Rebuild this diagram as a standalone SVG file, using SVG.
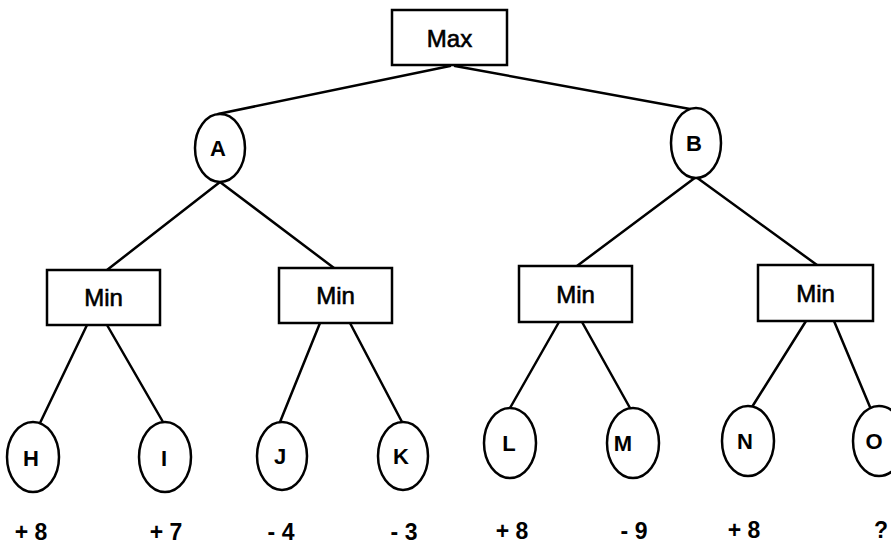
<svg xmlns="http://www.w3.org/2000/svg" width="891" height="547" viewBox="0 0 891 547">
<style>
.box{fill:#fff;stroke:#000;stroke-width:2.5}
.ell{fill:#fff;stroke:#000;stroke-width:2.5}
.edge{stroke:#000;stroke-width:2.5;fill:none;stroke-linecap:round}
.lbl{font-family:"Liberation Sans",Arial,sans-serif;font-size:24px;fill:#000;stroke:#000;stroke-width:0.6;text-anchor:middle}
.ltr{font-family:"Liberation Sans",Arial,sans-serif;font-size:22px;font-weight:bold;fill:#000;text-anchor:middle}
.val{font-family:"Liberation Sans",Arial,sans-serif;font-size:23px;font-weight:bold;fill:#000;text-anchor:middle}
</style>
<rect width="891" height="547" fill="#fff"/>
<g id="connectors">
<line class="edge" x1="450" y1="66" x2="218" y2="114"/>
<line class="edge" x1="455" y1="66" x2="690" y2="109"/>
<line class="edge" x1="220" y1="182" x2="107" y2="270"/>
<line class="edge" x1="220" y1="182" x2="334" y2="268"/>
<line class="edge" x1="696" y1="177" x2="577" y2="266"/>
<line class="edge" x1="696" y1="177" x2="817" y2="265"/>
<line class="edge" x1="87" y1="325" x2="40" y2="423"/>
<line class="edge" x1="107" y1="325" x2="163" y2="422"/>
<line class="edge" x1="320" y1="323" x2="280" y2="422"/>
<line class="edge" x1="350" y1="323" x2="402" y2="422"/>
<line class="edge" x1="559" y1="322" x2="510" y2="408"/>
<line class="edge" x1="582" y1="322" x2="630" y2="408"/>
<line class="edge" x1="806" y1="321" x2="752" y2="407"/>
<line class="edge" x1="834" y1="321" x2="870" y2="407"/>
</g>
<g id="max"><rect class="box" x="392" y="10" width="115" height="55"/><text class="lbl" x="449.5" y="47">Max</text></g>
<g id="A"><ellipse class="ell" cx="220" cy="148" rx="25" ry="34"/><text class="ltr" x="218" y="156">A</text></g>
<g id="B"><ellipse class="ell" cx="696" cy="143" rx="25" ry="35"/><text class="ltr" x="694" y="151">B</text></g>
<g id="min1"><rect class="box" x="47" y="270" width="113" height="55"/><text class="lbl" x="103.5" y="306">Min</text></g>
<g id="min2"><rect class="box" x="279" y="268" width="113" height="55"/><text class="lbl" x="335.5" y="304">Min</text></g>
<g id="min3"><rect class="box" x="519" y="266" width="113" height="56"/><text class="lbl" x="575.5" y="303">Min</text></g>
<g id="min4"><rect class="box" x="758" y="265" width="115" height="56"/><text class="lbl" x="815.5" y="302">Min</text></g>
<g id="H"><ellipse class="ell" cx="33" cy="457" rx="26" ry="35"/><text class="ltr" x="31" y="466">H</text></g>
<g id="I"><ellipse class="ell" cx="165" cy="457" rx="26" ry="35"/><text class="ltr" x="164" y="466">I</text></g>
<g id="J"><ellipse class="ell" cx="282" cy="456" rx="25" ry="34"/><text class="ltr" x="280" y="464">J</text></g>
<g id="K"><ellipse class="ell" cx="403" cy="456" rx="25" ry="34"/><text class="ltr" x="401" y="464">K</text></g>
<g id="L"><ellipse class="ell" cx="510" cy="443" rx="26" ry="35"/><text class="ltr" x="509" y="451">L</text></g>
<g id="M"><ellipse class="ell" cx="633" cy="443" rx="26" ry="35"/><text class="ltr" x="623" y="451">M</text></g>
<g id="N"><ellipse class="ell" cx="748" cy="441" rx="26" ry="35"/><text class="ltr" x="745" y="449">N</text></g>
<g id="O"><ellipse class="ell" cx="879" cy="441" rx="26" ry="35"/><text class="ltr" x="874" y="449">O</text></g>
<g id="values">
<text class="val" x="31" y="540">+ 8</text>
<text class="val" x="166" y="540">+ 7</text>
<text class="val" x="281" y="540">- 4</text>
<text class="val" x="404" y="540">- 3</text>
<text class="val" x="512" y="539">+ 8</text>
<text class="val" x="634" y="539">- 9</text>
<text class="val" x="744" y="538">+ 8</text>
<text class="val" x="881" y="538">?</text>
</g>
</svg>
